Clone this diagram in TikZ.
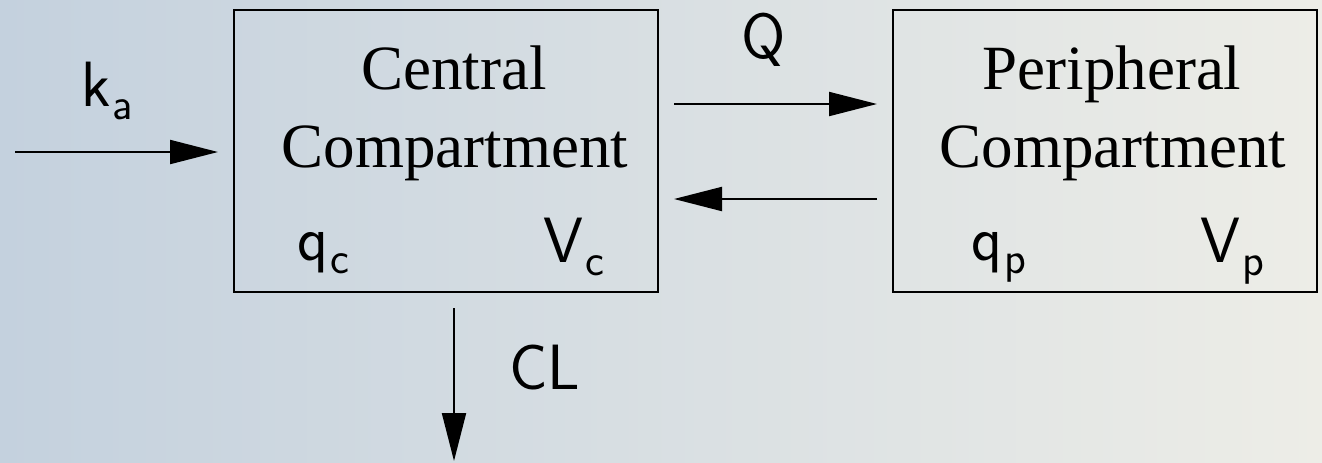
\documentclass[tikz,border=0pt]{standalone}
\usepackage{fontspec}
\newfontfamily\titlefont{Liberation Serif}
\usetikzlibrary{arrows.meta}
\definecolor{bgleft}{RGB}{196,209,222}
\definecolor{bgright}{RGB}{237,237,231}
% parameter with a lowered, smaller subscript
\newcommand{\pksub}[2]{#1\kern1pt\raisebox{-6.5pt}{\fontsize{22.5}{26}\selectfont #2}}
\begin{document}
\begin{tikzpicture}[x=0.5pt,y=-0.5pt,
  compartment/.style={draw,line width=1pt,minimum width=212pt,minimum height=141pt,
    inner sep=0pt,outer sep=0pt},
  title/.style={font=\titlefont\fontsize{31.5}{38}\selectfont,anchor=base,inner sep=0pt},
  param/.style={font=\sffamily\fontsize{32}{38}\selectfont,anchor=base west,inner sep=0pt},
  rate/.style={font=\sffamily\fontsize{32}{38}\selectfont,anchor=base,inner sep=0pt},
  flow/.style={line width=1pt,-{Triangle[length=24pt,width=12pt]}},
]
\shade[left color=bgleft,right color=bgright] (0,0) rectangle (1322,462);
\useasboundingbox (0,0) rectangle (1322,462);

% compartments
\node[compartment] (central) at (446,151) {};
\node[compartment] (peripheral) at (1105,151) {};

\node[title] (ctitle1) at (454,89) {Central};
\node[title] (ctitle2) at (455,167) {Compartment};
\node[title] (ptitle1) at (1112,89) {Peripheral};
\node[title] (ptitle2) at (1113,167) {Compartment};

\node[param] (qc) at (297,260) {\pksub{q}{c}};
\node[param] (vc) at (543,262) {\pksub{V}{c}};
\node[param] (qp) at (971,260) {\pksub{q}{p}};
\node[param] (vp) at (1200,262) {\pksub{V}{p}};

% rate labels
\node[param] (ka) at (81,106) {\pksub{k}{a}};
\node[rate] (q) at (764,58) {Q};
\node[rate] (cl) at (545,389) {CL};

% flows
\coordinate (dose) at (15,152);
\coordinate (upper) at (666,104);
\coordinate (lower) at (666,199);
\coordinate (elim) at (454,461);
\coordinate (elimstart) at (454,292);

\draw[flow,shorten >=8pt] (dose) -- (dose -| central.west);
\draw[flow,shorten <=8pt,shorten >=8pt] (upper -| central.east) -- (upper -| peripheral.west);
\draw[flow,shorten <=8pt,shorten >=8pt] (lower -| peripheral.west) -- (lower -| central.east);
\draw[flow,shorten <=8pt] (elimstart) -- (elim);
\end{tikzpicture}
\end{document}
